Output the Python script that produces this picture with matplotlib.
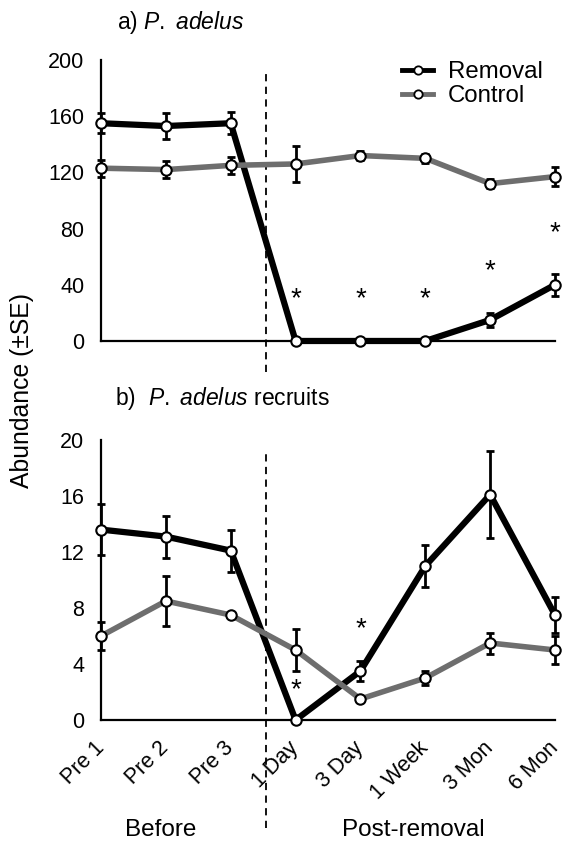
import numpy as np
import matplotlib
matplotlib.use('Agg')
import matplotlib.pyplot as plt
from matplotlib.lines import Line2D

# sampling times
times = ['Pre 1', 'Pre 2', 'Pre 3', '1 Day', '3 Day', '1 Week', '3 Mon', '6 Mon']

# a) P. adelus abundance
adult_removal = [155, 153, 155, 0, 0, 0, 15, 40]
adult_removal_se = [7, 9, 8, 0, 0, 0, 5, 8]
adult_control = [123, 122, 125, 126, 132, 130, 112, 117]
adult_control_se = [6, 6, 6, 13, 3, 3, 3, 7]
adult_star_x = ['1 Day', '3 Day', '1 Week', '3 Mon', '6 Mon']
adult_star_y = [30, 30, 30, 50, 77]

# b) P. adelus recruits
rec_removal = [13.6, 13.1, 12.1, 0, 3.5, 11.0, 16.1, 7.5]
rec_removal_se = [1.8, 1.5, 1.5, 0, 0.7, 1.5, 3.1, 1.3]
rec_control = [6.0, 8.5, 7.5, 5.0, 1.5, 3.0, 5.5, 5.0]
rec_control_se = [1.0, 1.8, 0.1, 1.5, 0.1, 0.5, 0.75, 1.0]
rec_star_x = ['1 Day', '3 Day']
rec_star_y = [2.1, 6.5]

BLACK = '#000000'
GREY = '#6e6e6e'
FS_TICK = 15.5
FS_LAB = 17.5

plt.rcParams['font.family'] = ['Liberation Sans', 'DejaVu Sans']
plt.rcParams['font.size'] = FS_TICK
plt.rcParams['mathtext.fontset'] = 'custom'
plt.rcParams['mathtext.rm'] = 'Liberation Sans'
plt.rcParams['mathtext.it'] = 'Liberation Sans:italic'

fig = plt.figure(figsize=(5.63, 8.44), dpi=100)
ax_a = fig.add_axes([0.1794, 0.5960, 0.8064, 0.3329])
ax_b = fig.add_axes([0.1794, 0.1469, 0.8064, 0.3318])

x = np.arange(len(times))
split = 2.55


def draw_series(ax, y, se, color, lw):
    ax.plot(x, y, color=color, lw=lw, zorder=2, solid_capstyle='butt',
            clip_on=False)
    ax.errorbar(x, y, yerr=se, fmt='none', ecolor='black', elinewidth=2,
                capsize=3, capthick=2, zorder=3, clip_on=False)
    ax.plot(x, y, ls='none', marker='o', ms=7.5, mfc='white', mec='black',
            mew=1.5, zorder=4, clip_on=False)


def style(ax, ymax, step):
    ax.set_xlim(0, 7)
    ax.set_ylim(0, ymax)
    ax.set_yticks(np.arange(0, ymax + 1, step))
    ax.set_xticks(x)
    for s in ['top', 'right']:
        ax.spines[s].set_visible(False)
    for s in ['left', 'bottom']:
        ax.spines[s].set_linewidth(1.6)
    ax.tick_params(axis='both', length=0, labelsize=FS_TICK)
    ax.tick_params(axis='y', pad=12)


# panel a
draw_series(ax_a, adult_removal, adult_removal_se, BLACK, 4.5)
draw_series(ax_a, adult_control, adult_control_se, GREY, 4.0)
style(ax_a, 200, 40)
ax_a.set_xticklabels([])
for t, yv in zip(adult_star_x, adult_star_y):
    ax_a.text(times.index(t), yv, '*', ha='center', va='center', fontsize=20)
ax_a.axvline(split, ymin=-0.11, ymax=0.954, color='black', lw=1.3,
             ls=(0, (4, 3)), clip_on=False, zorder=1)
fig.text(117 / 563, 1 - 22 / 844, 'a) $\\it{P.}$ $\\it{adelus}$', ha='left',
         va='center', fontsize=16.5)

handles = [
    Line2D([], [], color=BLACK, lw=3.5, marker='o', ms=6, mfc='white',
           mec='black', mew=1.3, label='Removal'),
    Line2D([], [], color=GREY, lw=3.5, marker='o', ms=6, mfc='white',
           mec='black', mew=1.3, label='Control'),
]
fig.legend(handles=handles, loc='upper left',
           bbox_to_anchor=(402 / 563, 1 - 61 / 844), frameon=False,
           handlelength=1.3, handletextpad=0.6, labelspacing=0.1,
           borderpad=0, borderaxespad=0, fontsize=17.3)

# panel b
draw_series(ax_b, rec_removal, rec_removal_se, BLACK, 4.5)
draw_series(ax_b, rec_control, rec_control_se, GREY, 4.0)
style(ax_b, 20, 4)
ax_b.set_xticklabels(times, rotation=45, ha='right', va='center',
                     rotation_mode='anchor')
ax_b.tick_params(axis='x', pad=18)
for t, yv in zip(rec_star_x, rec_star_y):
    ax_b.text(times.index(t), yv, '*', ha='center', va='center', fontsize=20)
ax_b.axvline(split, ymin=-0.386, ymax=0.964, color='black', lw=1.3,
             ls=(0, (4, 3)), clip_on=False, zorder=1)
fig.text(115 / 563, 1 - 399 / 844, 'b)  $\\it{P.}$ $\\it{adelus}$ recruits',
         ha='left', va='center', fontsize=16.5)

fig.text(161 / 563, 1 - 830 / 844, 'Before', ha='center', va='center',
         fontsize=FS_LAB)
fig.text(413 / 563, 1 - 830 / 844, 'Post-removal', ha='center', va='center',
         fontsize=FS_LAB)
fig.text(22 / 563, 1 - 390 / 844, 'Abundance (\u00b1SE)', rotation=90,
         ha='center', va='center', fontsize=17.8)

fig.savefig('out.png', dpi=100)
